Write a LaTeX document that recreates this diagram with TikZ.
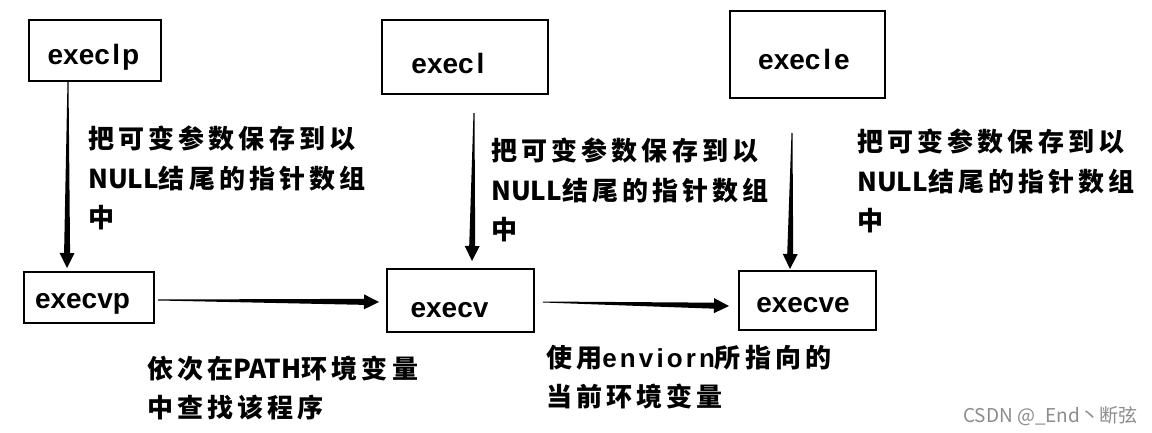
\documentclass[tikz,border=0pt]{standalone}
\usepackage{fontspec}
\setmainfont{Liberation Sans}
\newfontfamily\cjk{Noto Sans CJK SC}[LetterSpace=16]
\newfontfamily\cjkn{Noto Sans CJK SC}
\usetikzlibrary{calc}
\newcommand\taperarrow[2]{%
  \path (#1) coordinate (ts) (#2) coordinate (te);
  \path ($(te)!15pt!(ts)$) coordinate (th);
  \fill[black] ($(ts)!0.5pt!90:(te)$) -- ($(th)!3pt!-90:(ts)$) -- ($(th)!7.5pt!-90:(ts)$) -- (te)
     -- ($(th)!7.5pt!90:(ts)$) -- ($(th)!3pt!90:(ts)$) -- ($(ts)!0.5pt!-90:(te)$) -- cycle;}
\tikzset{
  box/.style={draw=black, line width=2.8pt, rectangle, inner sep=0pt, outer sep=0pt},
  fname/.style={font=\fontsize{28}{30}\selectfont\bfseries},
  note/.style={align=left, anchor=base west, inner sep=0pt, font=\fontsize{26}{39.5}\selectfont\cjk\bfseries},
}
\newcommand\lat[1]{{\cjkn\bfseries #1}}
\begin{document}
\begin{tikzpicture}[x=1pt, y=-1pt]
\useasboundingbox[fill=white] (0,0) rectangle (1152,433);
% boxes
\node[box, minimum width=132, minimum height=61,
      label={[fname, xshift=-1.5pt, yshift=-7pt]center:exec\kern2.5pt l\kern2pt p}] (execlp) at (95,50.5) {};
\node[box, minimum width=166, minimum height=74,
      label={[fname, xshift=-17pt, yshift=-6pt]center:exec\kern3pt l}] (execl) at (465,57) {};
\node[box, minimum width=155, minimum height=87,
      label={[fname, xshift=-3.5pt, yshift=-5pt]center:exec\kern3pt l\kern3pt e}] (execle) at (807.5,54.5) {};
\node[box, minimum width=130, minimum height=51,
      label={[fname, xshift=-6.5pt, yshift=-6.5pt]center:execvp}] (execvp) at (89,297.5) {};
\node[box, minimum width=147, minimum height=63,
      label={[fname, xshift=-11pt, yshift=-10pt]center:execv}] (execv) at (460.5,300.5) {};
\node[box, minimum width=137, minimum height=59,
      label={[fname, xshift=-4.5pt, yshift=-5pt]center:execve}] (execve) at (807.5,300.5) {};
% arrows
\taperarrow{[xshift=-27pt]execlp.south}{[xshift=-22pt, yshift=4pt]execvp.north}
\taperarrow{[xshift=4pt, yshift=-2.5pt]execvp.east}{[xshift=-8pt, yshift=-1.5pt]execv.west}
\taperarrow{[xshift=9pt, yshift=-19pt]execl.south}{[xshift=11.5pt, yshift=8pt]execv.north}
\taperarrow{[xshift=9pt, yshift=-1.5pt]execv.east}{[xshift=-10pt, yshift=-5.5pt]execve.west}
\taperarrow{[xshift=-15.5pt, yshift=-35pt]execle.south}{[xshift=-17.5pt, yshift=2pt]execve.north}
% notes (base anchor = last line)
\node[note] (n1) at (88,227.5) {把可变参数保存到以\\\lat{NULL}结尾的指针数组\\中};
\node[note] (n2) at (491,239.5) {把可变参数保存到以\\\lat{NULL}结尾的指针数组\\中};
\node[note] (n3) at (857,230.5) {把可变参数保存到以\\\lat{NULL}结尾的指针数组\\中};
\node[note] (n4) at (147,417.5) {依次在\lat{PATH}环境变量\\中查找该程序};
\node[note] (n5) at (546,406.5) {使用{\fontspec{Liberation Sans}[LetterSpace=12]\bfseries enviorn}所指向的\\当前环境变量};
% watermark
\node[anchor=base west, inner sep=0pt, text=black!45, font=\fontsize{19}{22}\selectfont\cjkn] (wm) at (963,422) {CSDN @\_End丶断弦};
\end{tikzpicture}
\end{document}
